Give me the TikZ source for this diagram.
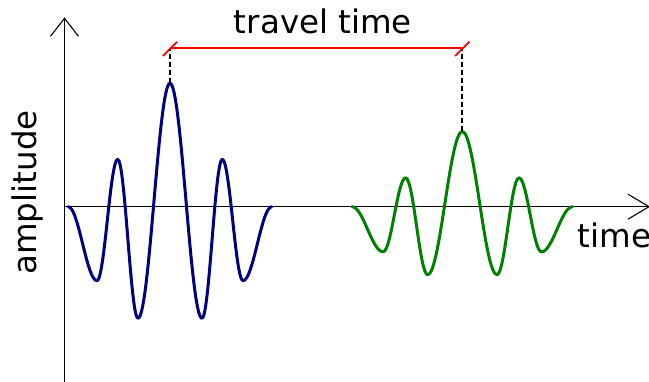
\documentclass[tikz,border=0pt]{standalone}
\usepackage{fontspec}
\setmainfont{DejaVu Sans}
\definecolor{wblue}{RGB}{0,0,128}
\definecolor{wgreen}{RGB}{0,128,0}
\begin{document}
\begin{tikzpicture}[x=1pt,y=-1pt,
  axis/.style={line width=1.1pt,black},
  wave/.style={line width=3pt,line cap=round,line join=round},
  guide/.style={line width=2pt,dash pattern=on 5pt off 3pt},
  span/.style={line width=1.8pt,red},
  lab/.style={font=\fontsize{32.5}{39}\selectfont,inner sep=0pt}]
\useasboundingbox (0,0) rectangle (649,382);
% axes
\coordinate (ytop) at (64.5,18.3);
\coordinate (ybot) at (64.5,382);
\coordinate (O) at (64.5,206.7);
\coordinate (xend) at (649,206.7);
\draw[axis] (ybot) -- (ytop);
\draw[axis] ([shift={(-14,18)}]ytop) -- (ytop) -- ([shift={(14,18)}]ytop);
\draw[axis] (O) -- (xend);
\draw[axis] ([shift={(-21,-12.5)}]xend) -- (xend) -- ([shift={(-21,12.5)}]xend);
% wavelet shape
\def\wavelet{(-101.8,0) .. controls (-91.32,0) and (-83.48,74) .. (-73,74)
 .. controls (-65.47,74) and (-59.83,-47.4) .. (-52.3,-47.4)
 .. controls (-44.91,-47.4) and (-39.39,111.6) .. (-32,111.6)
 .. controls (-20.35,111.6) and (-11.65,-123.4) .. (0,-123.4)
 .. controls (11.65,-123.4) and (20.35,111.6) .. (32,111.6)
 .. controls (39.39,111.6) and (44.91,-47.4) .. (52.3,-47.4)
 .. controls (59.83,-47.4) and (65.47,74) .. (73,74)
 .. controls (83.48,74) and (91.32,0) .. (101.8,0)}
\begin{scope}[shift={(170,206.7)}]
  \draw[wave,wblue] \wavelet;
\end{scope}
\begin{scope}[shift={(462.3,206.7)},xscale=1.084,yscale=0.61]
  \draw[wave,wgreen] \wavelet;
\end{scope}
% travel time marker
\coordinate (bpeak) at (170,83.3);
\coordinate (gpeak) at (462.3,131.4);
\coordinate (rl) at (170,48.3);
\coordinate (rr) at (462.3,48.3);
\draw[guide] (bpeak) -- (rl);
\draw[guide] (gpeak) -- (rr);
\draw[span] (rl) -- (rr);
\draw[span] ([shift={(-7.2,7.7)}]rl) -- ([shift={(7,-6.5)}]rl);
\draw[span] ([shift={(-7.2,7.7)}]rr) -- ([shift={(7,-6.5)}]rr);
% labels
\node[lab,anchor=base] (tt) at (323,34) {travel time};
\node[lab,rotate=90,anchor=base] (amp) at (37,192.5) {amplitude};
\node[lab,anchor=base west] (tm) at (577.5,248) {time};
\end{tikzpicture}
\end{document}
